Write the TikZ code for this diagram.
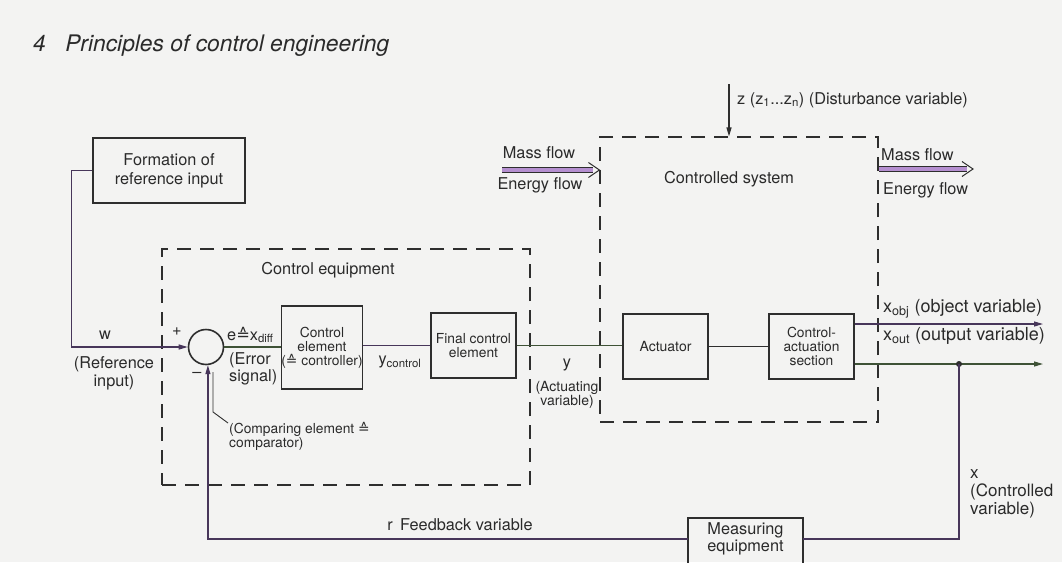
\documentclass[tikz,border=0pt]{standalone}
\usepackage{fontspec}
\setmainfont{TeX Gyre Heros}
\newfontfamily\symf{DejaVu Sans}
\usetikzlibrary{arrows.meta}
\definecolor{bgc}{HTML}{F3F3F2}
\definecolor{ink}{HTML}{2A2A2A}
\definecolor{linec}{HTML}{2E2E2E}
\definecolor{plc}{HTML}{47365A}
\definecolor{glc}{HTML}{3E5236}
\definecolor{pinner}{HTML}{B58FD0}
\newcommand{\fsz}[2]{\fontsize{#1}{#2}\selectfont}
\newcommand{\estsym}{{\symf ≙}}
\begin{document}
\begin{tikzpicture}[x=1pt,y=-1pt,
  box/.style={draw=linec, line width=1.6pt, inner sep=0pt, align=center, text=ink},
  lbl/.style={text=ink, inner sep=0pt, align=center, font=\fsz{16.3}{18}},
  ln/.style={draw=linec, line width=1.2pt},
  dbox/.style={draw=linec, line width=1.15pt, dash pattern=on 14pt off 9pt, inner sep=0pt},
  arr/.style={-{Triangle[length=9pt,width=5pt]}},
  mshaft/.style={draw=linec, line width=0.9pt, double=pinner, double distance=3.6pt},
  mhead/.style={draw=linec, line width=1pt, line join=miter}
]
\path[fill=bgc] (0,0) rectangle (1062,562);
\useasboundingbox (0,0) rectangle (1062,562);
\clip (0,0) rectangle (1062,562);

% title
\node[anchor=base west, text=ink, inner sep=0pt, font=\fsz{22.8}{24}\itshape] (title) at (33,51) {4\hspace{0.85em}Principles of control engineering};

% dashed regions
\node[dbox, minimum width=368pt, minimum height=236pt] (ceq) at (346,367) {};
\node[dbox, minimum width=278pt, minimum height=285pt] (csys) at (739,279.5) {};
\node[lbl] (ceqlbl) at (328,270) {Control equipment};
\node[lbl] (csyslbl) at (729,179) {Controlled system};

% boxes
\node[box, minimum width=152pt, minimum height=65pt, font=\fsz{16.3}{19}] (form) at (169,170.5) {Formation of\\reference input};
\node[draw=linec, line width=1.6pt, circle, minimum size=35pt, inner sep=0pt] (cmp) at (206,347) {};
\node[box, minimum width=78pt, minimum height=83pt, font=\fsz{13.8}{14}] (ctrl) at (322,347.5) {Control\\element\\(\estsym{} controller)};
\node[box, minimum width=85pt, minimum height=65pt, font=\fsz{13.8}{13.5}] (final) at (473.5,345.5) {Final control\\element};
\node[box, minimum width=85pt, minimum height=65pt, font=\fsz{14}{14}] (act) at (665.5,346.5) {Actuator};
\node[box, minimum width=85pt, minimum height=65pt, font=\fsz{13.8}{14}] (cas) at (811.5,346.5) {Control-\\actuation\\section};
\node[inner sep=0pt, align=center, text=ink, minimum width=115pt, minimum height=42pt, font=\fsz{16.3}{17}] (meas) at (745.5,539) {Measuring\\equipment};
\draw[linec, line width=1.6pt] ([yshift=-10pt]meas.south west) -- (meas.north west) -- (meas.north east) -- ([yshift=-10pt]meas.south east);

% coordinates
\coordinate (zstart) at (729,84);
\coordinate (mf1s) at (502,170);
\coordinate (mf2e) at (973,169);
\coordinate (objend) at (1043,324);
\coordinate (outend) at (1043,364);
\coordinate (dot) at (959,364);
\coordinate (ld1) at (213,372);
\coordinate (mf1e) at (mf1s -| csys.west);
\coordinate (mf2s) at (csys.east |- mf2e);

% connectors
\draw[ln, draw=plc, arr] (form.west) -- ++(-21,0) |- (cmp.west);
\draw[ln, draw=glc] (cmp.east) -- (cmp.east -| ctrl.west);
\draw[ln, draw=plc] (ctrl.east |- final.west) -- (final.west);
\draw[ln, draw=glc] (final.east) -- (final.east -| act.west);
\draw[ln] (act.east) -- (cas.west);
\draw[ln, draw=plc, arr] (cas.east |- objend) -- (objend);
\draw[ln, draw=glc, arr] (cas.east |- outend) -- (outend);
\fill[linec] (dot) circle (3pt);
\draw[ln, draw=plc] (dot) |- (meas.east);
\draw[ln, draw=plc, arr] (meas.west) -| (cmp.-84);
\draw[ln, arr] (zstart) -- (zstart |- csys.north);
\draw[linec, line width=0.9pt] (ld1) -- ++(0,40) -- ++(15,11);

% mass / energy flow arrows
\draw[mshaft] (mf1s) -- ([xshift=-6pt]mf1e);
\draw[mhead] ([xshift=-11pt,yshift=7.5pt]mf1e) -- (mf1e) -- ([xshift=-11pt,yshift=-7.5pt]mf1e);
\draw[mshaft] (mf2s) -- ([xshift=-6pt]mf2e);
\draw[mhead] ([xshift=-11pt,yshift=7.5pt]mf2e) -- (mf2e) -- ([xshift=-11pt,yshift=-7.5pt]mf2e);

% labels
\node[lbl] (wlbl) at (105,335) {w};
\node[lbl] (reflbl) at (114,373) {(Reference\\input)};
\node[lbl] (plus) at (177,332) {+};
\node[lbl] (minus) at (197,375) {–};
\node[lbl, anchor=west] (elbl) at (227,335) {e\estsym{}x\textsubscript{diff}};
\node[lbl, anchor=west, align=left, font=\fsz{16.3}{16.5}] (errlbl) at (229,369) {(Error\\signal)};
\node[lbl, anchor=west, align=left, font=\fsz{13.8}{13}] (cmplbl) at (229,436.5) {(Comparing element \estsym\\comparator)};
\node[lbl] (yclbl) at (400,362) {y\textsubscript{control}};
\node[lbl] (ylbl) at (567,365) {y};
\node[lbl, font=\fsz{14}{13}] (actvlbl) at (567,395) {(Actuating\\variable)};
\node[lbl] (fblbl) at (460,525) {r\hspace{0.45em}Feedback variable};
\node[lbl, anchor=west] (zlbl) at (737,100) {z (z\textsubscript{1}...z\textsubscript{n}) (Disturbance variable)};
\node[lbl] (mass1) at (539,153) {Mass flow};
\node[lbl] (energy1) at (540,185) {Energy flow};
\node[lbl, anchor=west] (mass2) at (881,155) {Mass flow};
\node[lbl, anchor=west] (energy2) at (883,190) {Energy flow};
\node[lbl, anchor=west, font=\fsz{18}{20}] (objlbl) at (883,309) {x\textsubscript{obj} (object variable)};
\node[lbl, anchor=west, font=\fsz{18}{20}] (outlbl) at (883,336) {x\textsubscript{out} (output variable)};
\node[lbl, anchor=north west, align=left, font=\fsz{17}{18}] (xlbl) at (970,469) {x\\(Controlled\\variable)};
\end{tikzpicture}
\end{document}
